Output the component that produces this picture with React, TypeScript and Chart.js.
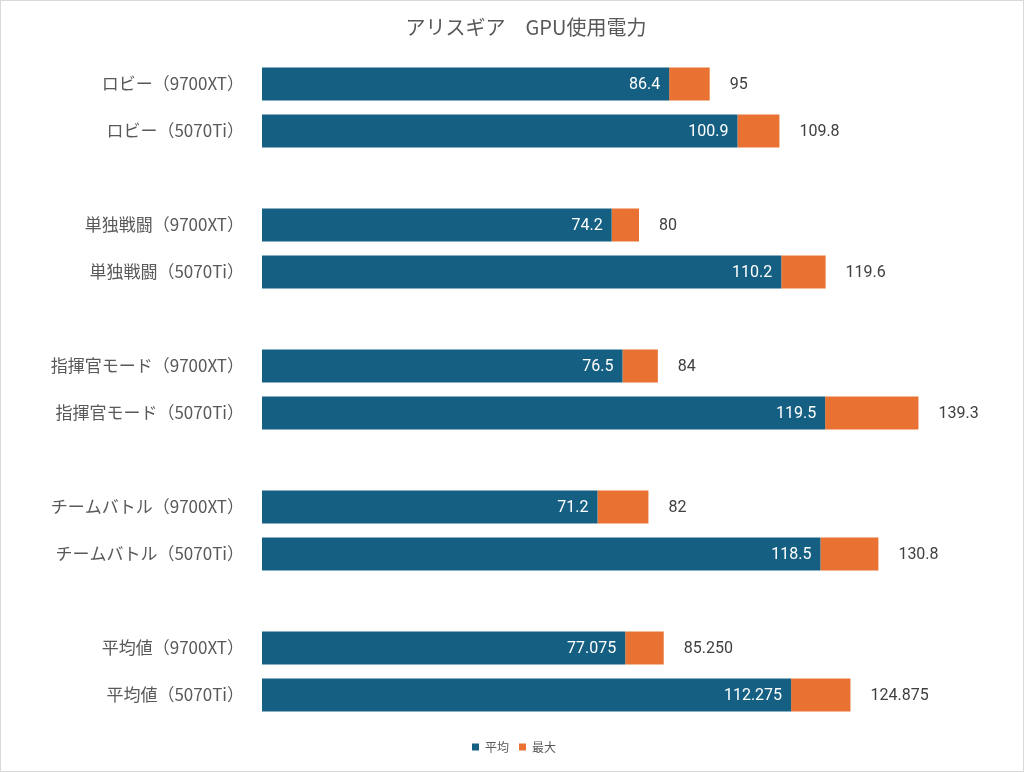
import React, { useEffect, useRef } from 'react';
import { Chart, ChartConfiguration, registerables } from 'chart.js';

Chart.register(...registerables);

// 空文字のカテゴリはグループ間の隙間
const categories = [
  'ロビー（9700XT）',
  'ロビー（5070Ti）',
  '',
  '単独戦闘（9700XT）',
  '単独戦闘（5070Ti）',
  '',
  '指揮官モード（9700XT）',
  '指揮官モード（5070Ti）',
  '',
  'チームバトル（9700XT）',
  'チームバトル（5070Ti）',
  '',
  '平均値（9700XT）',
  '平均値（5070Ti）',
];

const avgValues: (number | null)[] = [
  86.4, 100.9, null,
  74.2, 110.2, null,
  76.5, 119.5, null,
  71.2, 118.5, null,
  77.075, 112.275,
];

const maxValues: (number | null)[] = [
  95, 109.8, null,
  80, 119.6, null,
  84, 139.3, null,
  82, 130.8, null,
  85.25, 124.875,
];

const seriesNames = ['平均', '最大'];
const chartTitle = 'アリスギア　GPU使用電力';

const BLUE = '#156082';
const ORANGE = '#E97132';
const TEXT = '#595959';
const JP_FONT = '"Noto Sans CJK JP", "Noto Sans", sans-serif';
const NUM_FONT = 'Roboto, "Noto Sans", sans-serif';

const fmt = (v: number, idx: number) =>
  categories[idx].startsWith('平均値') ? v.toFixed(3) : String(v);

const valueLabels = {
  id: 'valueLabels',
  afterDatasetsDraw(chart: Chart) {
    const ctx = chart.ctx;
    ctx.save();
    ctx.font = `16px ${NUM_FONT}`;
    ctx.textBaseline = 'middle';

    const avgMeta = chart.getDatasetMeta(0);
    avgMeta.data.forEach((bar: any, i) => {
      const v = avgValues[i];
      if (v == null) return;
      ctx.fillStyle = '#ffffff';
      ctx.textAlign = 'right';
      ctx.fillText(fmt(v, i), bar.x - 9, bar.y + 1);
    });

    const maxMeta = chart.getDatasetMeta(1);
    maxMeta.data.forEach((bar: any, i) => {
      const v = maxValues[i];
      if (v == null) return;
      ctx.fillStyle = '#404040';
      ctx.textAlign = 'left';
      ctx.fillText(fmt(v, i), bar.x + 20, bar.y + 1);
    });
    ctx.restore();
  },
};

// タイトルは元画像どおり少し右寄せで描く（レイアウト用の標準タイトルは透明）
const offsetTitle = {
  id: 'offsetTitle',
  afterDraw(chart: Chart) {
    const tb: any = (chart as any).titleBlock;
    if (!tb) return;
    const ctx = chart.ctx;
    ctx.save();
    ctx.font = `20px ${JP_FONT}`;
    ctx.fillStyle = TEXT;
    ctx.textAlign = 'center';
    ctx.textBaseline = 'middle';
    const y = tb.top + tb.options.padding.top + 12;
    ctx.fillText(chartTitle, chart.width / 2 + 14, y);
    ctx.restore();
  },
};

const PowerChart: React.FC = () => {
  const canvasRef = useRef<HTMLCanvasElement>(null);
  const chartRef = useRef<Chart | null>(null);

  useEffect(() => {
    if (!canvasRef.current) return;
    const ctx = canvasRef.current.getContext('2d');
    if (!ctx) return;

    const diffValues = avgValues.map((a, i) => {
      const m = maxValues[i];
      return a == null || m == null ? null : +(m - a).toFixed(3);
    });

    const config: ChartConfiguration<'bar'> = {
      type: 'bar',
      data: {
        labels: categories,
        datasets: [
          {
            label: seriesNames[0],
            data: avgValues as number[],
            backgroundColor: BLUE,
            barPercentage: 0.7,
            categoryPercentage: 1,
          },
          {
            label: seriesNames[1],
            data: diffValues as number[],
            backgroundColor: ORANGE,
            barPercentage: 0.7,
            categoryPercentage: 1,
          },
        ],
      },
      options: {
        indexAxis: 'y',
        responsive: true,
        maintainAspectRatio: false,
        animation: false,
        layout: { padding: { left: 44, right: 40, top: 0, bottom: 8 } },
        scales: {
          x: {
            stacked: true,
            min: 0,
            max: 153,
            grid: { display: false, drawTicks: false },
            border: { display: false },
            ticks: { display: false },
            afterFit: (s: any) => {
              s.height = 12.5;
            },
          },
          y: {
            stacked: true,
            grid: { display: false, drawTicks: false },
            border: { display: false },
            ticks: {
              color: TEXT,
              padding: 18,
              font: { family: JP_FONT, size: 17 },
            },
            afterFit: (s: any) => {
              s.width = 217;
            },
          },
        },
        plugins: {
          title: {
            display: true,
            text: chartTitle,
            color: 'rgba(0,0,0,0)',
            font: { family: JP_FONT, size: 20, weight: 'normal' },
            padding: { top: 14, bottom: 21.5 },
          },
          legend: {
            position: 'bottom',
            labels: {
              color: TEXT,
              boxWidth: 7,
              boxHeight: 7,
              padding: 10,
              font: { family: JP_FONT, size: 12 },
            },
          },
          tooltip: { enabled: false },
        },
      },
      plugins: [valueLabels, offsetTitle],
    };

    chartRef.current = new Chart(ctx, config);

    return () => {
      if (chartRef.current) {
        chartRef.current.destroy();
        chartRef.current = null;
      }
    };
  }, []);

  return (
    <div
      style={{
        position: 'absolute',
        left: 0,
        top: 0,
        width: 1024,
        height: 772,
        boxSizing: 'border-box',
        border: '1px solid #d9d9d9',
        background: '#ffffff',
      }}
    >
      <canvas ref={canvasRef} />
    </div>
  );
};

export default function App() {
  return <PowerChart />;
}
